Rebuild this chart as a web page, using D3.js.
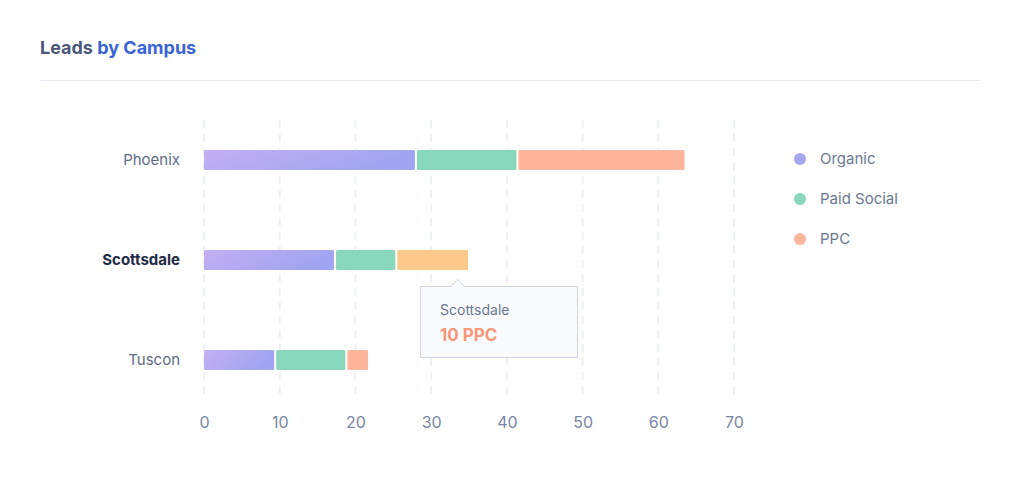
<!DOCTYPE html>
<html><head><meta charset="utf-8">
<script src="https://cdn.jsdelivr.net/npm/d3@7"></script>
<style>body{margin:0;background:#fff;font-family:Inter,"Noto Sans",sans-serif}</style>
</head><body><svg id="c" width="1020" height="480"></svg>
<script>
const campuses = ["Phoenix","Scottsdale","Tuscon"];
const series = ["Organic","Paid Social","PPC"];
const organic = [28, 17.3, 9.4];
const paidSocial = [13.4, 8.1, 9.4];
const ppc = [22.2, 9.6, 3];
const ticks = [0,10,20,30,40,50,60,70];
const colors = ["#a5a8f0","#88d7bd","#fdb59b"];

const svg = d3.select("#c");
const defs = svg.append("defs");
const g = defs.append("linearGradient").attr("id","grad").attr("x1","0").attr("x2","1").attr("y1","0").attr("y2","0.3");
g.append("stop").attr("offset","0").attr("stop-color","#c3aff3");
g.append("stop").attr("offset","1").attr("stop-color","#a1a4f0");

svg.append("text").attr("x",40).attr("y",54).attr("font-size",18).attr("font-weight",700)
  .attr("fill","#4a5778").text("Leads ").append("tspan").attr("fill","#3a63d8").text("by Campus");
svg.append("line").attr("x1",40).attr("x2",980).attr("y1",80.5).attr("y2",80.5).attr("stroke","#e6ebf2");

const x = d3.scaleLinear().domain([0,70]).range([204,734]);
const y = d3.scalePoint().domain(campuses).range([160,360]);

svg.append("g").selectAll("line").data(ticks).join("line")
  .attr("x1",d=>x(d)).attr("x2",d=>x(d)).attr("y1",120).attr("y2",397)
  .attr("stroke","#edf0f5").attr("stroke-width",2).attr("stroke-dasharray","8,6");

const ax = svg.append("g").attr("transform","translate(0,397)").call(d3.axisBottom(x).tickValues(ticks).tickSize(0).tickPadding(20));
ax.select(".domain").remove();
ax.selectAll("text").attr("font-size",16).attr("fill","#7a86a1").attr("font-family","Inter,sans-serif");

svg.append("g").selectAll("text").data(campuses).join("text")
  .attr("x",180).attr("y",d=>y(d)+5).attr("text-anchor","end").attr("font-size",15)
  .attr("font-weight",d=>d==="Scottsdale"?700:400)
  .attr("fill",d=>d==="Scottsdale"?"#1f2a44":"#5f6b85").text(d=>d);

const vals = [organic, paidSocial, ppc];
campuses.forEach((c,i)=>{
  let acc=0;
  vals.forEach((arr,s)=>{
    const v=arr[i];
    const x0=x(acc), x1=x(acc+v);
    acc+=v;
    let fill = s===0?"url(#grad)":colors[s];
    if(c==="Scottsdale"&&s===2) fill="#fdc98a";
    svg.append("rect").attr("x",x0+(s?1:0)).attr("y",y(c)-10).attr("width",x1-x0-(s?2:1))
      .attr("height",20).attr("rx",1.5).attr("fill",fill);
  });
});

// legend
series.forEach((s,i)=>{
  const ly=159+i*40;
  svg.append("circle").attr("cx",800).attr("cy",ly).attr("r",6).attr("fill",colors[i]);
  svg.append("text").attr("x",820).attr("y",ly+5).attr("font-size",15).attr("fill","#6b7790").text(s);
});

// tooltip
const tx=420, ty=286, tw=158, th=72;
const tip = svg.append("g");
tip.append("path").attr("d",`M${tx+0.5},${ty+0.5} H${x(33.5)-7} l7,-7 l7,7 H${tx+tw-0.5} V${ty+th-0.5} H${tx+0.5} Z`)
  .attr("fill","#f9fbfe").attr("stroke","#cdd3e6");
tip.append("text").attr("x",440).attr("y",315).attr("font-size",14).attr("fill","#6b7790").text("Scottsdale");
tip.append("text").attr("x",440).attr("y",341).attr("font-size",17).attr("font-weight",700).attr("fill","#fb9677").text(ppc[1].toFixed(0)==="10"?"10 PPC":"10 PPC");
</script></body></html>
